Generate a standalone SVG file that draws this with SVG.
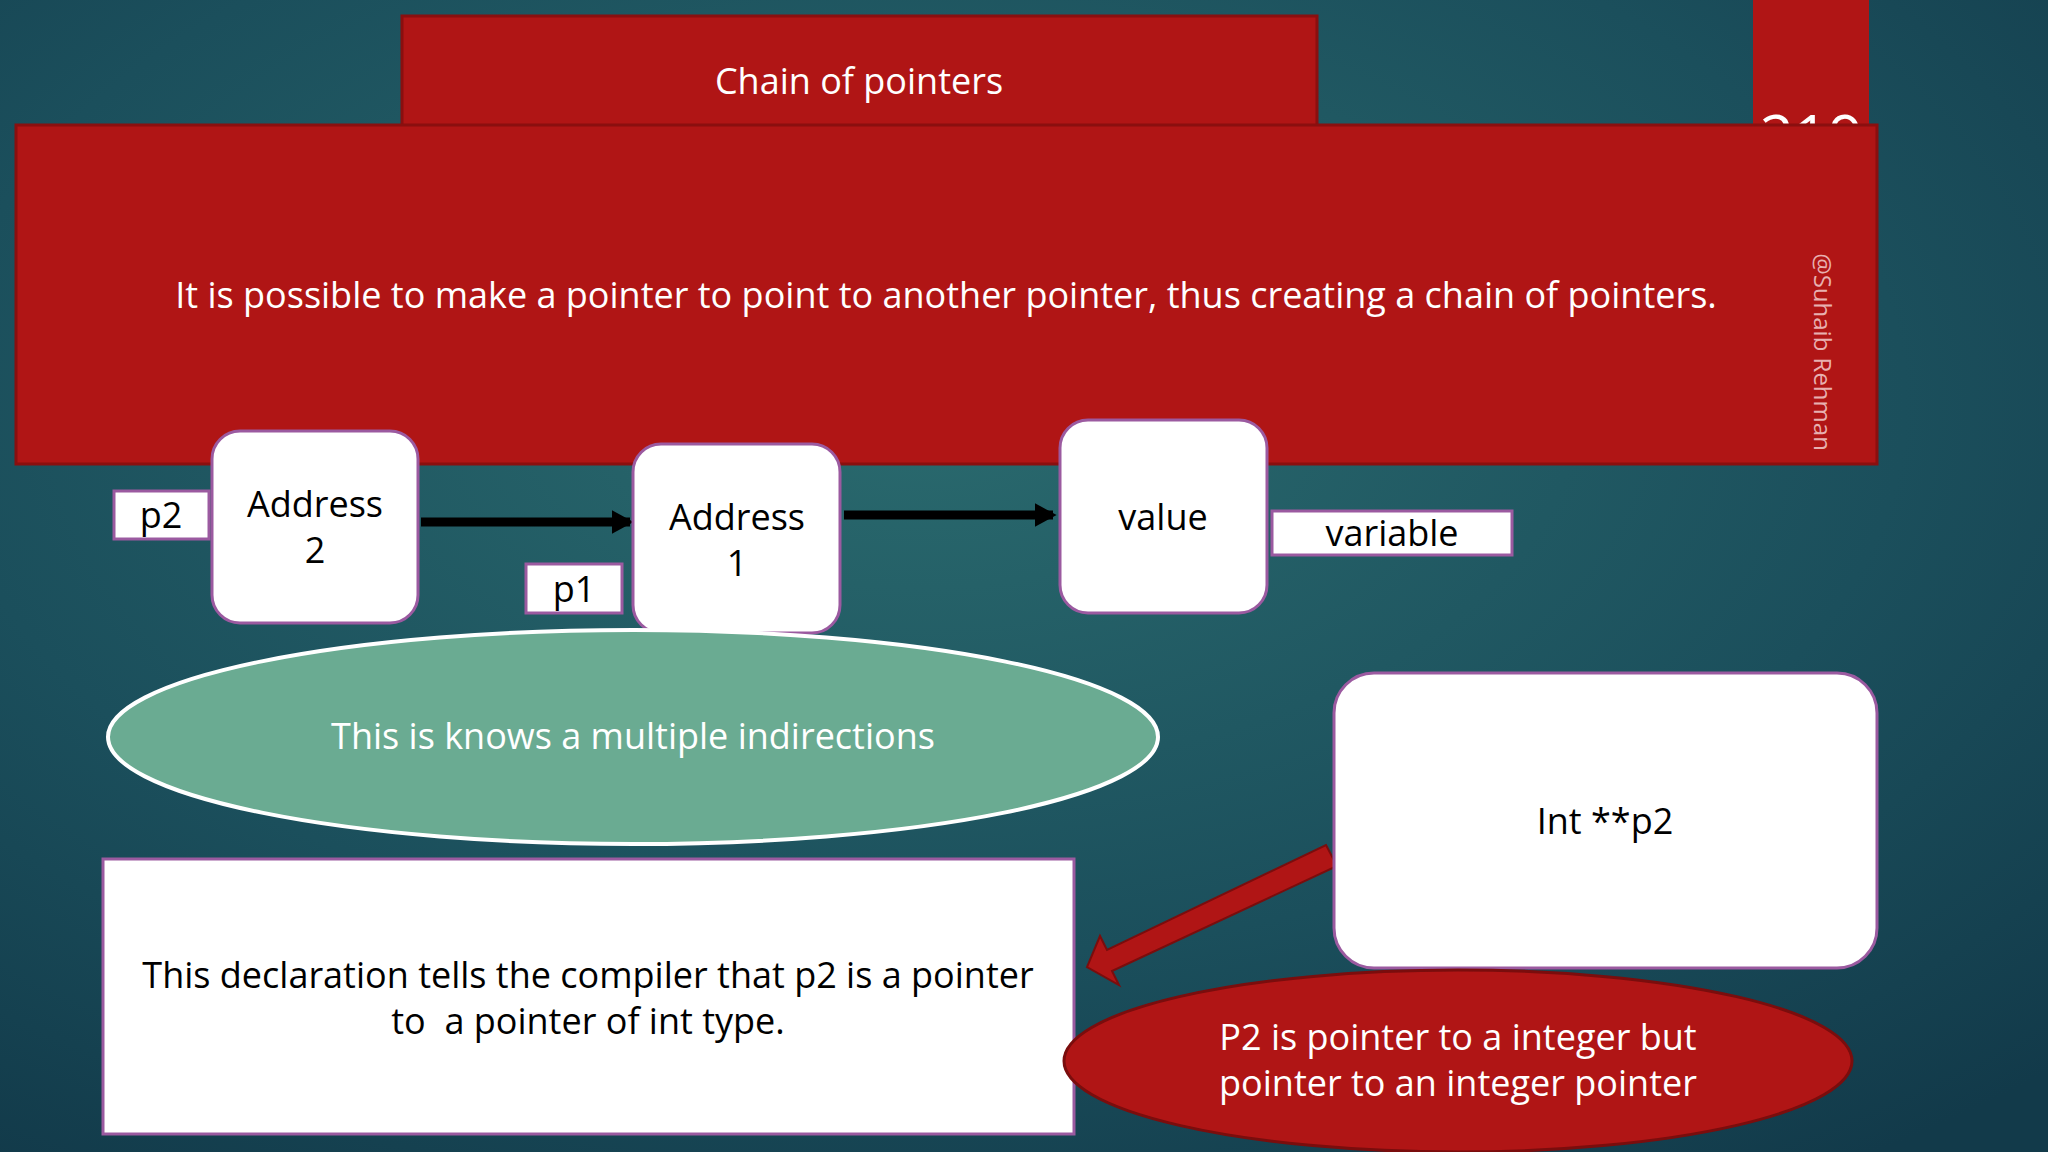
<svg xmlns="http://www.w3.org/2000/svg" width="2048" height="1152" viewBox="0 0 2048 1152">
<defs>
<radialGradient id="bg" cx="0.45" cy="0.35" r="0.8">
<stop offset="0" stop-color="#2a6a6e"/><stop offset="0.6" stop-color="#1b4f5c"/><stop offset="1" stop-color="#123a4a"/>
</radialGradient>
<marker id="ah" markerWidth="2.4" markerHeight="2.6" refX="2" refY="1.3" orient="auto" markerUnits="strokeWidth"><path d="M0,0 L2.4,1.3 L0,2.6 z" fill="#000"/></marker>
<clipPath id="topclip"><rect x="0" y="0" width="2048" height="125"/></clipPath>
<style>
text{font-family:"Open Sans","Noto Sans","Liberation Sans",sans-serif;}
.red{fill:#b01515;stroke:#8a0f0f;stroke-width:3}
.wb{fill:#fff;stroke:#9b5aa0;stroke-width:3}
.t{font-size:36px;fill:#000;text-anchor:middle}
.w{font-size:36px;fill:#fff;text-anchor:middle}
</style>
</defs>
<rect width="2048" height="1152" fill="url(#bg)"/>
<g id="title"><rect class="red" x="402" y="16" width="915" height="112"/><text class="w" x="859" y="94">Chain of pointers</text></g>
<g id="pagenum"><rect x="1753" y="0" width="116" height="126" fill="#b01515"/><text x="1811" y="158" clip-path="url(#topclip)" font-size="60" fill="#fff" text-anchor="middle">219</text></g>
<g id="main"><rect class="red" x="16" y="125" width="1861" height="339"/><text class="w" x="946" y="308">It is possible to make a pointer to point to another pointer, thus creating a chain of pointers.</text>
<text x="1814" y="352" font-size="24" fill="#e8b0b0" text-anchor="middle" transform="rotate(90 1814 352)">@Suhaib Rehman</text></g>
<g id="connectors">
<line x1="421" y1="522" x2="630" y2="522" stroke="#000" stroke-width="9" marker-end="url(#ah)"/>
<line x1="844" y1="515" x2="1053" y2="515" stroke="#000" stroke-width="9" marker-end="url(#ah)"/>
<path d="M1326,845 L1337,866 L1112,971 L1119,985 L1087,967 L1100,936 L1107,950 Z" fill="#b01515" stroke="#7a0d0d" stroke-width="2"/>
</g>
<g id="addr2"><rect class="wb" x="212" y="431" width="206" height="192" rx="28"/><text class="t" x="315" y="517">Address</text><text class="t" x="315" y="563">2</text></g>
<g id="p2"><rect class="wb" x="114" y="491" width="95" height="48"/><text class="t" x="161" y="528">p2</text></g>
<g id="addr1"><rect class="wb" x="633" y="444" width="207" height="189" rx="28"/><text class="t" x="737" y="530">Address</text><text class="t" x="737" y="576">1</text></g>
<g id="p1"><rect class="wb" x="526" y="564" width="96" height="49"/><text class="t" x="574" y="602">p1</text></g>
<g id="value"><rect class="wb" x="1060" y="420" width="207" height="193" rx="28"/><text class="t" x="1163" y="530">value</text></g>
<g id="variable"><rect class="wb" x="1272" y="511" width="240" height="44"/><text class="t" x="1392" y="546">variable</text></g>
<g id="ellipse1"><ellipse cx="633" cy="737" rx="525" ry="107" fill="#6aab92" stroke="#fff" stroke-width="4"/><text class="w" x="633" y="749">This is knows a multiple indirections</text></g>
<g id="decl"><rect class="wb" x="103" y="859" width="971" height="275"/><text class="t" x="588" y="988">This declaration tells the compiler that p2 is a pointer</text><text class="t" x="588" y="1034" xml:space="preserve">to  a pointer of int type.</text></g>
<g id="intp2"><rect class="wb" x="1334" y="673" width="543" height="295" rx="40"/><text class="t" x="1605" y="834">Int **p2</text></g>
<g id="ellipse2"><ellipse cx="1458" cy="1061" rx="394" ry="91" fill="#b01515" stroke="#7a0d0d" stroke-width="3"/><text class="w" x="1458" y="1050">P2 is pointer to a integer but</text><text class="w" x="1458" y="1096">pointer to an integer pointer</text></g>
</svg>
